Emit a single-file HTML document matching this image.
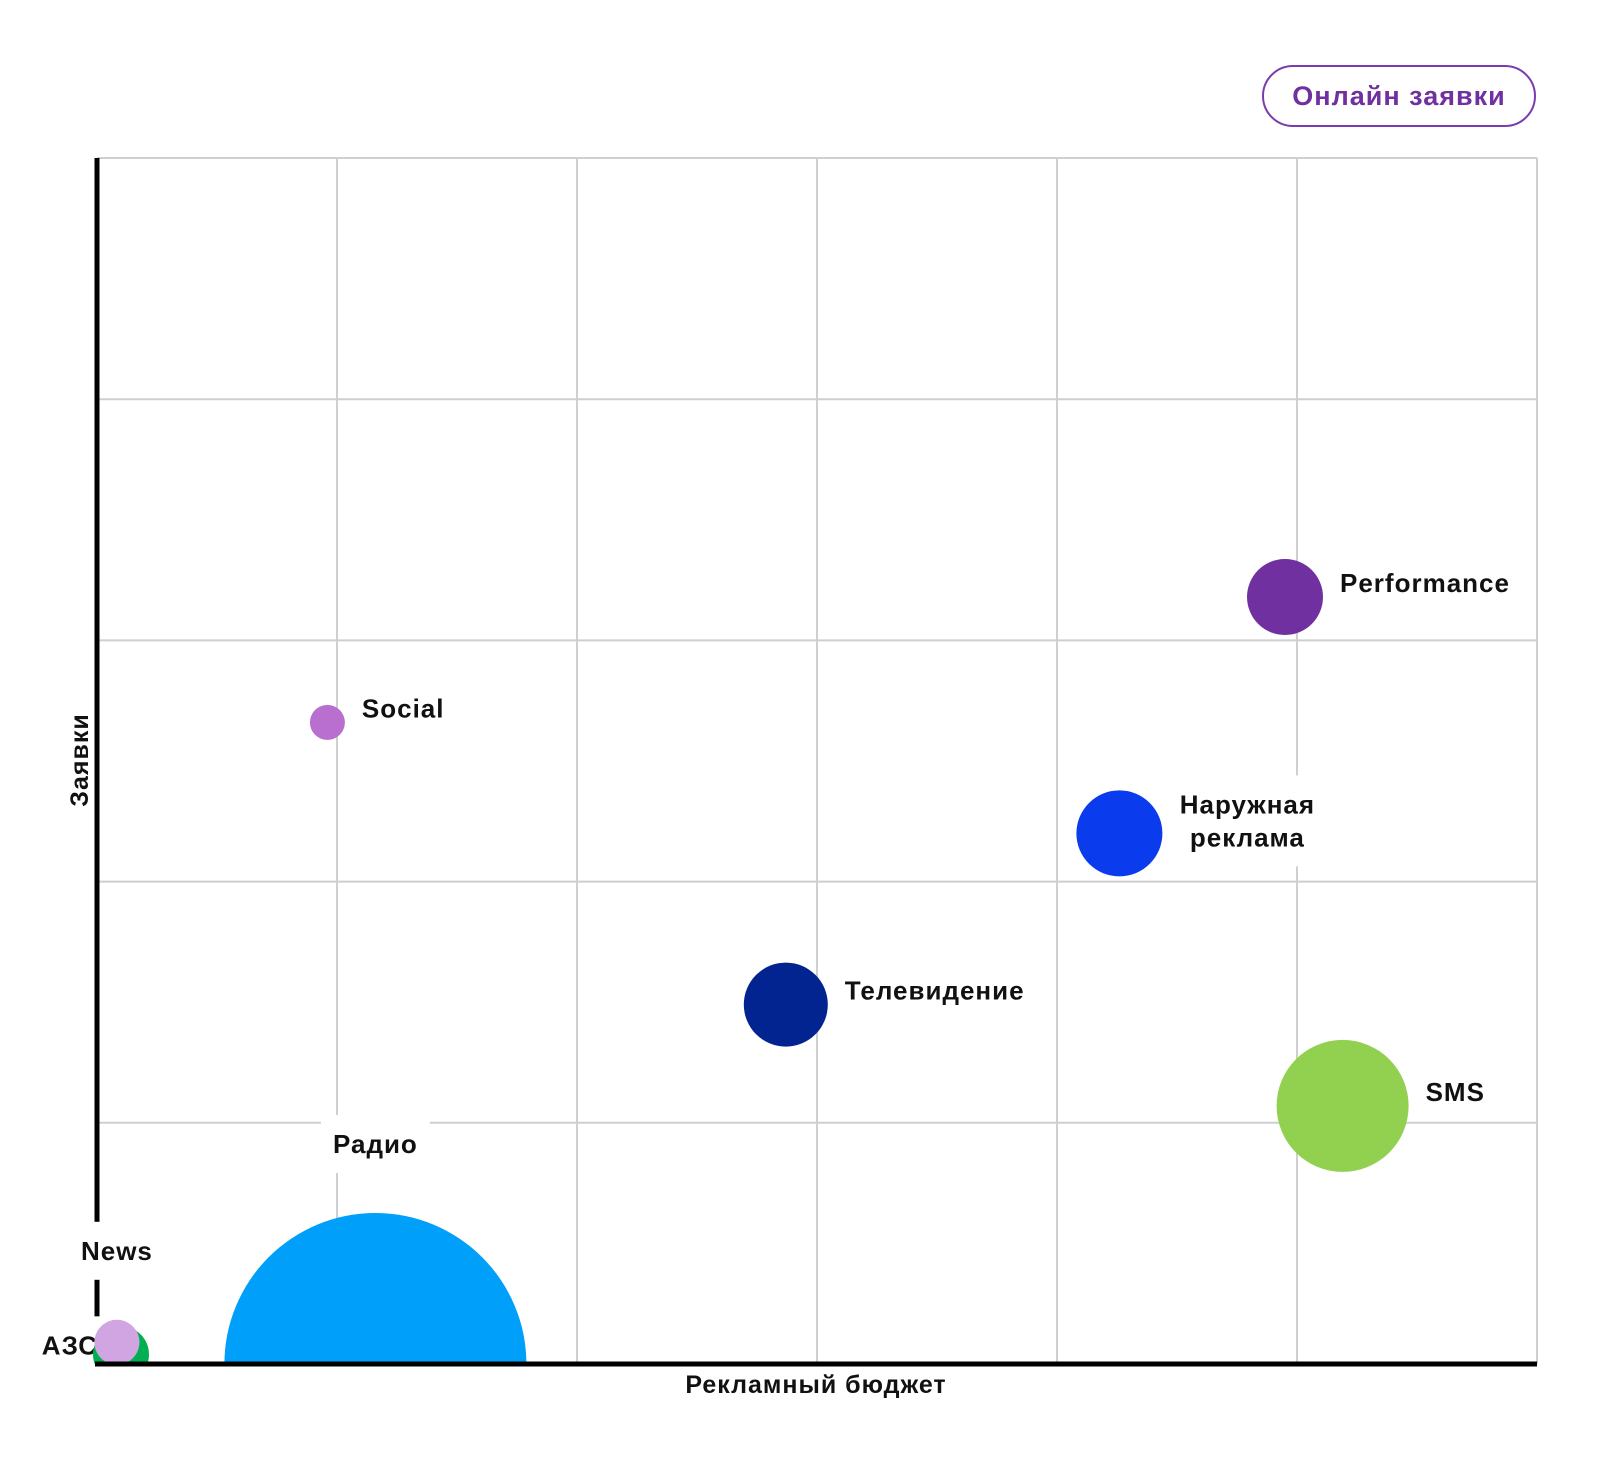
<!DOCTYPE html>
<html><head><meta charset="utf-8">
<style>
html,body{margin:0;padding:0;background:#fff;}
body{width:1600px;height:1462px;position:relative;overflow:hidden;font-family:"Liberation Sans","Noto Sans CJK SC",sans-serif;}
#btn{position:absolute;left:1262px;top:65px;width:270px;height:58px;border:2px solid #7a3bb0;border-radius:31px;color:#7030a0;font-weight:bold;font-size:27px;display:flex;align-items:center;justify-content:center;letter-spacing:1px;}
svg text{font-family:"Liberation Sans","Noto Sans CJK SC",sans-serif;font-weight:bold;}
</style></head>
<body>
<div id="btn">Онлайн заявки</div>
<svg id="chart" width="1600" height="1462" style="position:absolute;left:0;top:0"></svg>
<script>
const names = ["Performance","Social","Наружная|реклама","Телевидение","SMS","Радио","АЗС","News"];
const xVals = [4.95,0.96,4.26,2.87,5.19,1.16,0.10,0.083];
const yVals = [3.18,2.66,2.20,1.49,1.07,0.0,0.04,0.09];
const sizes = [38,17.5,43,42,66,151,28,22.5];
const colors = ["#7030a0","#b86fcf","#0a3ced","#022490","#92d050","#009ffa","#00b050","#d0a5e2"];
const labelPos = ["right","right","right2","right","right","above","left","above"];
const xTicks = [0,1,2,3,4,5,6];
const yTicks = [0,1,2,3,4,5];

const L=97,R=1537,T=158,B=1364;
const xs = v => L + v*(R-L)/6;
const ys = v => B - v*(B-T)/5;
const NS="http://www.w3.org/2000/svg";
const svg=document.getElementById('chart');
function mk(tag,attrs,parent){const e=document.createElementNS(NS,tag);for(const k in attrs)e.setAttribute(k,attrs[k]);(parent||svg).appendChild(e);return e;}

const defs=mk('defs',{});
const cp=mk('clipPath',{id:'plotclip'},defs);
mk('rect',{x:L-4,y:T-5,width:R-L+9,height:B-T+5},cp);

const grid=mk('g',{});


xTicks.forEach(t=>{if(t>0)mk('line',{x1:xs(t),x2:xs(t),y1:T,y2:B,stroke:'#cfcfcf','stroke-width':2},grid);});
yTicks.forEach(t=>{if(t>0)mk('line',{x1:L,x2:R,y1:ys(t),y2:ys(t),stroke:'#cfcfcf','stroke-width':2},grid);});

const ya=mk('line',{x1:L,x2:L,y1:T,y2:B,stroke:'#000','stroke-width':5});



const labels=mk('g',{});
names.forEach((n,i)=>{
  const cx=xs(xVals[i]),cy=ys(yVals[i]),r=sizes[i];
  const lines=n.split('|');
  const pos=labelPos[i];
  const g=mk('g',{},labels);
  
  
  const t=mk('text',{'font-size':26,fill:'#111','letter-spacing':'1'},g);
  if(pos==='right'){
    t.setAttribute('text-anchor','start');
    const s=mk('tspan',{x:cx+r+17,y:cy-5},t);s.textContent=lines[0];
  } else if(pos==='right2'){
    t.setAttribute('text-anchor','middle');
    lines.forEach((ln,j)=>{const s=mk('tspan',{x:cx+r+85,y:cy-20+j*33},t);s.textContent=ln;});
  } else if(pos==='above'){
    t.setAttribute('text-anchor','middle');
    const s=mk('tspan',{x:cx,y:cy-r-60},t);s.textContent=lines[0];
  } else {
    t.setAttribute('text-anchor','end');
    const s=mk('tspan',{x:L+1,y:cy},t);s.textContent=lines[0];
  }
  const bb=t.getBBox();
  const bg=mk('rect',{x:bb.x-12,y:bb.y-14,width:bb.width+24,height:bb.height+28,fill:'#fff'});
  g.insertBefore(bg,t);
});

const bub=mk('g',{'clip-path':'url(#plotclip)'});
names.forEach((n,i)=>{
  const c=mk('circle',{cx:xs(xVals[i]),cy:ys(yVals[i]),r:sizes[i],fill:colors[i]},bub);
  
  
});

const xa=mk('line',{x1:L-2,x2:R,y1:B,y2:B,stroke:'#000','stroke-width':5});



const yt=mk('text',{x:0,y:0,'font-size':25,'text-anchor':'middle',fill:'#111','letter-spacing':'1',transform:'translate(88,760) rotate(-90)'});
yt.textContent='Заявки';


const xt=mk('text',{x:816,y:1393,'font-size':25,'text-anchor':'middle',fill:'#111','letter-spacing':'1'});
xt.textContent='Рекламный бюджет';


</script>
</body></html>
